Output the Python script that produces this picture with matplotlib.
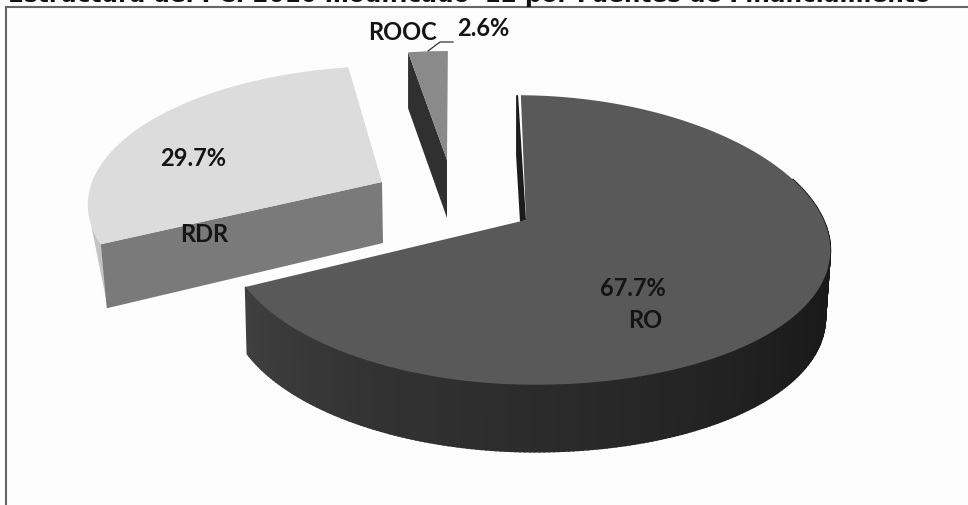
import numpy as np
import matplotlib
matplotlib.use("Agg")
import matplotlib.pyplot as plt

title = "Estructura del PC. 2010 modificado '12 por Fuentes de Financiamiento"
labels = ["RO", "RDR", "ROOC"]
shares = [67.7, 29.7, 2.6]
pct_labels = ["67.7%", "29.7%", "2.6%"]

BG = "#fdfdfd"
fig = plt.figure(figsize=(9.68, 5.05), dpi=100, facecolor=BG)
ax = fig.add_axes([0, 0, 1, 1])
ax.set_xlim(0, 968)
ax.set_ylim(505, 0)
ax.axis("off")

# slice geometry: apex, horizontal radii (right/left), skew, vertical radius, right sag, depth
geom = {
    "RO":   dict(cx=525, cy=220, ar=301, al=297, b=-9, d=142, e=6, depth=67),
    "RDR":  dict(cx=382, cy=182, ar=290, al=290, b=9,  d=132, e=0,  depth=61),
    "ROOC": dict(cx=447, cy=160, ar=278, al=278, b=1,  d=124, e=0,  depth=57),
}
P = 0.138

edges = np.concatenate([[0], np.cumsum(shares)]) / np.sum(shares) * 2 * np.pi


def rim(t, g):
    s, c = np.sin(t), np.cos(t)
    w = 1 + P * c
    a = np.where(s >= 0, g["ar"], g["al"])
    x = g["cx"] + (a * s + g["b"] * c) / w
    y = g["cy"] - g["d"] * c / w + g["e"] * np.where(s > 0, s * s, 0)
    return x, y


def grey(v):
    return (v, v, v)


# ---------- RDR
i = labels.index("RDR")
g = geom["RDR"]
t = np.linspace(edges[i], edges[i + 1], 120)
x, y = rim(t, g)
dp = g["depth"]
# outer light sliver
mask = t < np.radians(252)
ax.fill(np.r_[x[mask], x[0] + 7], np.r_[y[mask], y[0] + dp + 3], color="#c4c4c4", lw=0)
# front cut wall
ax.fill([x[0], g["cx"], g["cx"] + 1, x[0] + 6], [y[0], g["cy"], g["cy"] + dp, y[0] + dp + 3],
        color="#7a7a7a", lw=0)
ax.fill(np.r_[g["cx"], x], np.r_[g["cy"], y], color="#dcdcdc", lw=0)

# ---------- ROOC
i = labels.index("ROOC")
g = geom["ROOC"]
t = np.linspace(edges[i], edges[i + 1], 20)
x, y = rim(t, g)
ax.fill([x[0], x[0], g["cx"], g["cx"]], [y[0], y[0] + 56, g["cy"] + g["depth"] + 1, g["cy"]],
        color="#303030", lw=0)
ax.fill(np.r_[g["cx"], x], np.r_[g["cy"], y], color="#8a8a8a", lw=0)

# ---------- RO
i = labels.index("RO")
g = geom["RO"]
t = np.linspace(edges[i], edges[i + 1], 300)
x, y = rim(t, g)
dp = g["depth"]
# side strips
shade_t = np.radians([90, 125, 170, 210, 244])
shade_v = [0.09, 0.11, 0.16, 0.20, 0.25]
shift = 5 * np.clip(np.sin(t), 0, 1) - 2 * np.clip(-np.sin(t), 0, 1)
for k in range(len(t) - 1):
    if t[k] < np.radians(70):
        continue
    xs = [x[k], x[k + 1], x[k + 1] - shift[k + 1], x[k] - shift[k]]
    ys = [y[k], y[k + 1], y[k + 1] + dp, y[k] + dp]
    ax.fill(xs, ys, color=grey(float(np.interp(t[k], shade_t, shade_v))), lw=1.2)
# inner wall at the 0-degree cut
ax.fill([x[0] - 1, x[0] + 1, g["cx"] + 1, g["cx"] - 5, x[0] - 1],
        [y[0], y[0], g["cy"], g["cy"] + 2, y[0] + 60], color="#1c1c1c", lw=0)
ax.fill(np.r_[g["cx"] + 1, x[1:]], np.r_[g["cy"], y[1:]], color="#595959", lw=0)

# ---------- frame
ax.plot([6, 6, 968], [505, 7, 7], color="#666666", lw=1.5, solid_joinstyle="miter")

# ---------- text
tf = dict(family="Lato", fontweight="bold", color="#141414", fontsize=17,
          ha="center", va="center")
ax.text(633, 289, pct_labels[0], **tf)
ax.text(645, 320, labels[0], **tf)
ax.text(193, 158, pct_labels[1], **tf)
ax.text(204, 235, labels[1], **tf)
ax.text(403, 33, labels[2], **tf)
ax.text(483, 29, pct_labels[2], **tf)
ax.plot([428, 440, 453], [51, 42, 42], color="#333333", lw=0.9)

ax.text(8, 2, title, family="DejaVu Sans", fontweight="bold", color="#111111",
        fontsize=16.7, ha="left", va="baseline", clip_on=False)

fig.savefig("out.png", dpi=100, facecolor=BG)
